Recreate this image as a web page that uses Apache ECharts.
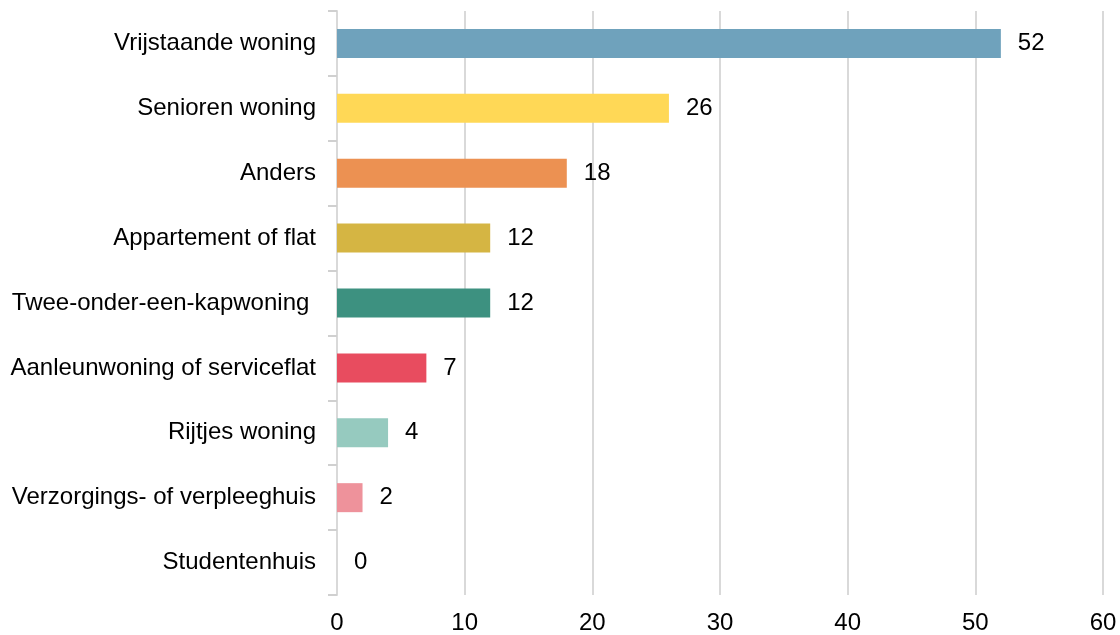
<!DOCTYPE html>
<html><head><meta charset="utf-8">
<script src="https://cdn.jsdelivr.net/npm/echarts@6/dist/echarts.min.js"></script>
<style>html,body{margin:0;padding:0;background:#fff}#c{width:1120px;height:635px}</style>
</head><body><div id="c"></div>
<script>
const categories = ["Vrijstaande woning","Senioren woning","Anders","Appartement of flat","Twee-onder-een-kapwoning ","Aanleunwoning of serviceflat","Rijtjes woning","Verzorgings- of verpleeghuis","Studentenhuis"];
const values = [52,26,18,12,12,7,4,2,0];
const colors = ["#6fa2bc","#ffd856","#ec9152","#d5b543","#3d9180","#e84c5f","#96cabf","#ee929b","#cccccc"];
const xTicks = [0,10,20,30,40,50,60];

const FONT = 'Liberation Sans, Arial, Helvetica, sans-serif';
const chart = echarts.init(document.getElementById('c'), null, {renderer:'canvas'});
chart.setOption({
  animation:false,
  backgroundColor:'#fff',
  grid:{left:337,right:17,top:11,bottom:39,containLabel:false},
  xAxis:{type:'value',min:xTicks[0],max:xTicks[xTicks.length-1],interval:10,
    axisLine:{show:false},axisTick:{show:false},
    splitLine:{show:true,lineStyle:{color:'#d9d9d9',width:2}},
    axisLabel:{color:'#000',fontFamily:FONT,fontSize:24,margin:16}},
  yAxis:{type:'category',inverse:true,data:categories,
    axisLine:{show:true,lineStyle:{color:'#d9d9d9',width:2}},
    axisTick:{show:true,length:9,lineStyle:{color:'#d0d0d0',width:2}},
    axisLabel:{color:'#000',fontFamily:FONT,fontSize:24,margin:21}},
  series:[{type:'bar',barWidth:29,
    data:values.map((v,i)=>({value:v,itemStyle:{color:colors[i]}})),
    label:{show:true,position:'right',distance:17,color:'#000',fontFamily:FONT,fontSize:24}
  }]
});
</script></body></html>
